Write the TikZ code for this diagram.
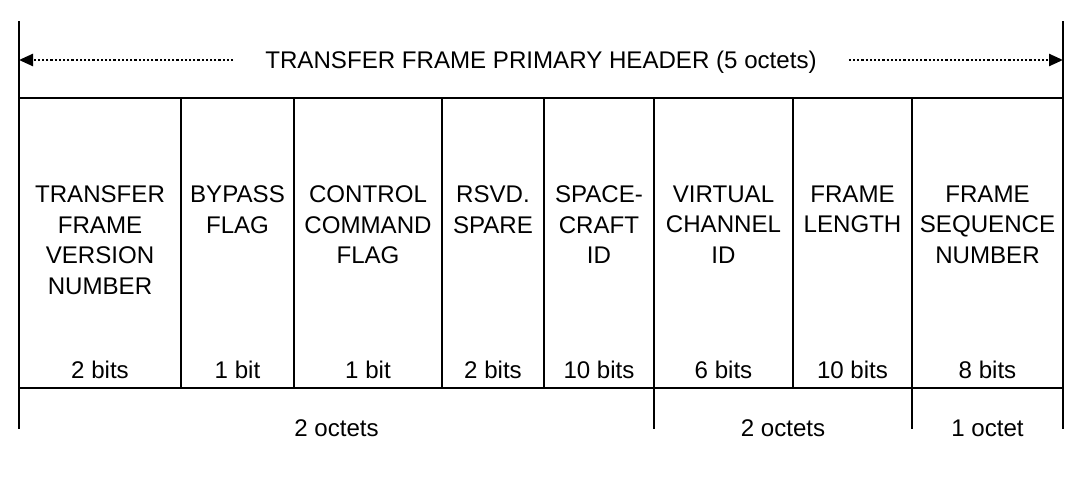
\documentclass[tikz,border=0pt]{standalone}
\usepackage{fontspec}
\setmainfont{Liberation Sans}
\usetikzlibrary{arrows.meta}
\begin{document}
\begin{tikzpicture}[x=1pt,y=-1pt,
  rule/.style={line width=2.4pt, line cap=rect},
  dotarrow/.style={line width=2.4pt, dash pattern=on 2.2pt off 2pt, -{Triangle[length=14pt,width=12pt]}},
  txt/.style={font=\fontsize{24.1}{30.7}\selectfont, inner sep=0pt},
  cell/.style={txt, align=center, anchor=north},
  bits/.style={txt, anchor=base},
  titletxt/.style={txt, anchor=base, inner xsep=32pt}
]
\useasboundingbox (0,0) rectangle (1080,479);
% frame coordinates
\coordinate (aL) at (19,60);
\coordinate (aR) at (1063,60);
% outer vertical lines
\draw[rule] (19,22) -- (19,428);
\draw[rule] (1063,22) -- (1063,428);
% horizontal lines
\draw[rule] (19,98) -- (1063,98);
\draw[rule] (19,388) -- (1063,388);
% column dividers
\foreach \x in {181,294,442,544,654,793,912}
  \draw[rule] (\x,98) -- (\x,388);
% octet dividers
\draw[rule] (654,388) -- (654,428);
\draw[rule] (912,388) -- (912,428);
% title and arrows
\node[titletxt] (title) at (541,68.5) {TRANSFER FRAME PRIMARY HEADER (5 octets)};
\draw[dotarrow] (title.west |- aL) -- (aL);
\draw[dotarrow] (title.east |- aR) -- (aR);
% field names
\node[cell] (c1) at (100,185.5) {TRANSFER\\FRAME\\VERSION\\NUMBER};
\node[cell] (c2) at (237.5,185.5) {BYPASS\\FLAG};
\node[cell] (c3) at (368,185.5) {CONTROL\\COMMAND\\FLAG};
\node[cell] (c4) at (493,185.5) {RSVD.\\SPARE};
\node[cell] (c5) at (599,185.5) {SPACE-\\CRAFT\\ID};
\node[cell] (c6) at (723.5,185.5) {VIRTUAL\\CHANNEL\\ID};
\node[cell] (c7) at (852.5,185.5) {FRAME\\LENGTH};
\node[cell] (c8) at (987.5,185.5) {FRAME\\SEQUENCE\\NUMBER};
% bit sizes
\node[bits] (b1) at (100,378.5) {2 bits};
\node[bits] (b2) at (237.5,378.5) {1 bit};
\node[bits] (b3) at (368,378.5) {1 bit};
\node[bits] (b4) at (493,378.5) {2 bits};
\node[bits] (b5) at (599,378.5) {10 bits};
\node[bits] (b6) at (723.5,378.5) {6 bits};
\node[bits] (b7) at (852.5,378.5) {10 bits};
\node[bits] (b8) at (987.5,378.5) {8 bits};
% octet sizes
\node[bits] (o1) at (336.5,436.5) {2 octets};
\node[bits] (o2) at (783,436.5) {2 octets};
\node[bits] (o3) at (987.5,436.5) {1 octet};
\end{tikzpicture}
\end{document}
